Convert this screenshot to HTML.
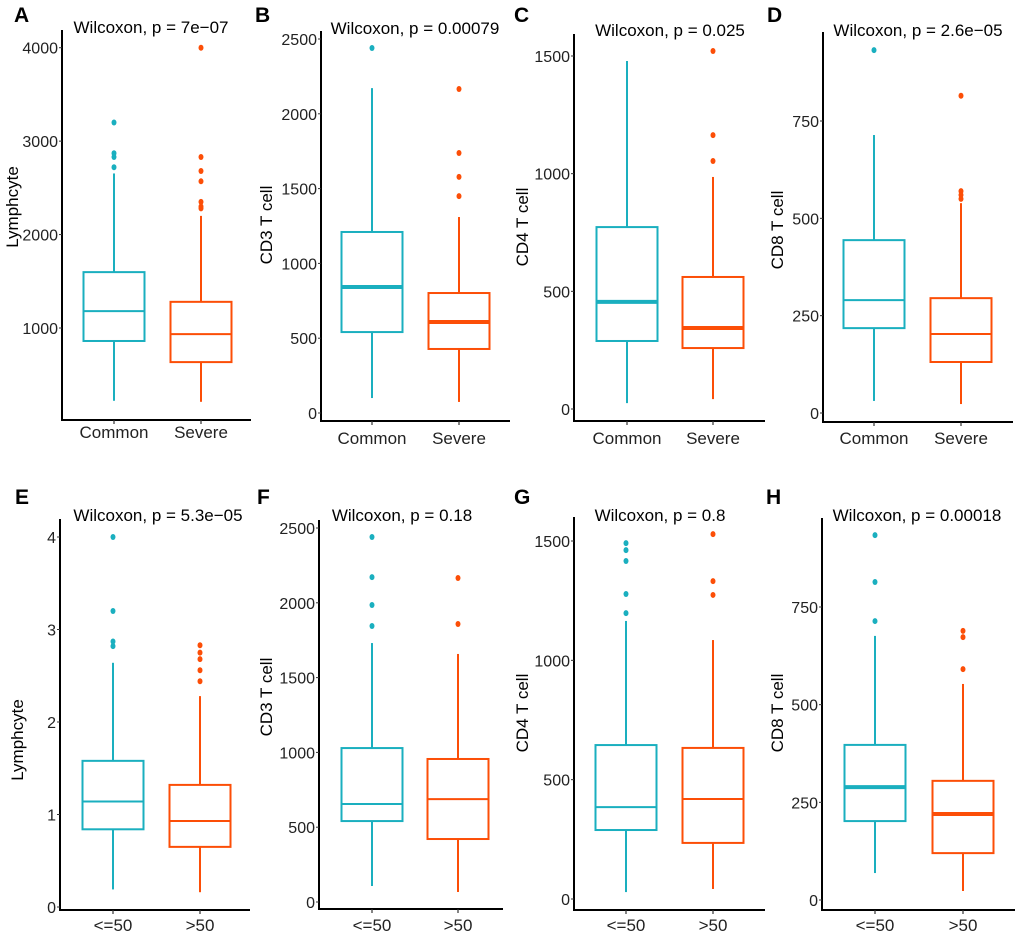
<!DOCTYPE html>
<html><head><meta charset="utf-8">
<style>
html,body{margin:0;padding:0;background:#fff;}
svg{display:block;font-family:"Liberation Sans",Arial,sans-serif;}
</style></head>
<body>
<svg id="chart" width="1020" height="937" viewBox="0 0 1020 937" xmlns="http://www.w3.org/2000/svg"></svg>
<script>
// ---- data ----
const panelLetters = ["A","B","C","D","E","F","G","H"];
const panelTitles = ["Wilcoxon, p = 7e\u221207","Wilcoxon, p = 0.00079","Wilcoxon, p = 0.025","Wilcoxon, p = 2.6e\u221205",
  "Wilcoxon, p = 5.3e\u221205","Wilcoxon, p = 0.18","Wilcoxon, p = 0.8","Wilcoxon, p = 0.00018"];
const yTitles = ["Lymphcyte","CD3 T cell","CD4 T cell","CD8 T cell","Lymphcyte","CD3 T cell","CD4 T cell","CD8 T cell"];
const categoriesTop = ["Common","Severe"];
const categoriesBottom = ["<=50",">50"];
const tickLabels = [
  [1000,2000,3000,4000],[0,500,1000,1500,2000,2500],[0,500,1000,1500],[0,250,500,750],
  [0,1,2,3,4],[0,500,1000,1500,2000,2500],[0,500,1000,1500],[0,250,500,750]];
const q1Values  = [[861,635],[541,428],[289,259],[218,131],[0.84,0.65],[541,421],[289,235],[202,120]];
const medValues = [[1181,935],[842,608],[455,344],[290,203],[1.14,0.93],[655,688],[385,419],[289,220]];
const q3Values  = [[1598,1280],[1210,802],[773,561],[444,295],[1.58,1.32],[1029,956],[645,633],[397,305]];
const loValues  = [[221,210],[100,74],[25,42],[31,23],[0.19,0.16],[107,67],[29,42],[69,23]];
const hiValues  = [[2654,2200],[2172,1310],[1479,986],[714,539],[2.64,2.28],[1731,1658],[1165,1085],[676,553]];
const outlierValues = [
  [[3200,2870,2830,2720],[4000,2830,2680,2570,2350,2300,2280]],
  [[2440],[2166,1738,1578,1450]],
  [[],[1521,1164,1054]],
  [[932],[815,570,560,550]],
  [[4.0,3.2,2.87,2.82],[2.83,2.75,2.68,2.56,2.44]],
  [[2440,2172,1985,1845],[2166,1858]],
  [[1491,1462,1416,1278,1198],[1529,1332,1274]],
  [[934,814,714],[689,673,591]]];
const thickMedian = [false,true,true,false,false,false,false,true];

// ---- layout (pixels) ----
const geom = [
  [62,30,420,251, 1000,328,4000,47.7, 114,201, 14,22, 151,27, 12,207, 438],
  [321,31,421,510, 0,413,2500,39, 372,459, 255,22, 415,28, 266,225, 444],
  [574,34,421,765, 0,409,1500,56, 627,713, 514,22, 670,30, 522,227, 444],
  [823,32,422,1013, 0,413,750,121, 874,961, 767,22, 918,30, 777,230, 444],
  [60,519,910,250, 0,907,4,537, 113,200, 15,504, 158,515, 17,740, 931],
  [319,520,909,503, 0,902,2500,528, 372,458, 257,504, 402,515, 266,697, 931],
  [574,517,910,765, 0,899,1500,541, 626,713, 514,504, 660,515, 522,713, 931],
  [822,518,910,1015, 0,900,750,607, 875,963, 766,504, 917,515, 777,713, 931]];
const colors = ["#1AAFBF","#FC4E07"];
const halfW = 30.5;

const svg = document.getElementById('chart');
const NS = "http://www.w3.org/2000/svg";
function mk(tag, attrs, parent){
  const e = document.createElementNS(NS, tag);
  for (const k in attrs) e.setAttribute(k, attrs[k]);
  (parent||svg).appendChild(e);
  return e;
}

for (let p = 0; p < 8; p++) {
  const g = geom[p];
  const [ax, aTop, aBot, aRight, v0, p0, v1, p1, c1, c2, lx, ly, tx, ty, ytx, yty, xly] = g;
  const yScale = v => p0 + (v - v0) * (p1 - p0) / (v1 - v0);
  const grp = mk('g', {});
  
  

  const letter = mk('text', {x: lx, y: ly, 'font-size': 21, 'font-weight': 'bold', fill: '#000'}, grp);
  letter.textContent = panelLetters[p];
  
  

  const title = mk('text', {x: tx, y: ty + 6, 'font-size': 17, 'text-anchor': 'middle', fill: '#000'}, grp);
  title.textContent = panelTitles[p];
  
  

  const yt = mk('text', {x: ytx, y: yty, 'font-size': 17, 'text-anchor': 'middle', fill: '#000', transform: `rotate(-90 ${ytx} ${yty})`, dy: 6}, grp);
  yt.textContent = yTitles[p];
  
  

  const axes = mk('path', {d: `M${ax} ${aTop} L${ax} ${aBot} L${aRight} ${aBot}`, fill: 'none', stroke: '#000', 'stroke-width': 2}, grp);
  
  

  tickLabels[p].forEach(t => {
    const y = yScale(t);
    const tk = mk('line', {x1: ax - 3, x2: ax, y1: y, y2: y, stroke: '#333', 'stroke-width': 1}, grp);
    
    
    const tl = mk('text', {x: ax - 4, y: y + 6, 'font-size': 16, 'text-anchor': 'end', fill: '#222'}, grp);
    tl.textContent = t;
    
    
  });

  const cats = p < 4 ? categoriesTop : categoriesBottom;
  [c1, c2].forEach((cx, i) => {
    const col = colors[i];
    const xt = mk('line', {x1: cx, x2: cx, y1: aBot, y2: aBot + 4, stroke: '#333', 'stroke-width': 1.2}, grp);
    
    
    const xl = mk('text', {x: cx, y: xly, 'font-size': 17, 'text-anchor': 'middle', fill: '#222'}, grp);
    xl.textContent = cats[i];
    
    

    const bg = mk('g', {}, grp);
    
    
    const yq1 = yScale(q1Values[p][i]), yq3 = yScale(q3Values[p][i]), ym = yScale(medValues[p][i]);
    const ylo = yScale(loValues[p][i]), yhi = yScale(hiValues[p][i]);
    const w1 = mk('line', {x1: cx, x2: cx, y1: yq3, y2: yhi, stroke: col, 'stroke-width': 2}, bg);
    
    
    const w2 = mk('line', {x1: cx, x2: cx, y1: yq1, y2: ylo, stroke: col, 'stroke-width': 2}, bg);
    
    
    const r = mk('rect', {x: cx - halfW, y: yq3, width: halfW * 2, height: yq1 - yq3, fill: '#fff', stroke: col, 'stroke-width': 2}, bg);
    
    
    const m = mk('line', {x1: cx - halfW, x2: cx + halfW, y1: ym, y2: ym, stroke: col, 'stroke-width': thickMedian[p] ? 4 : 2}, bg);
    
    
    outlierValues[p][i].forEach(v => {
      const c = mk('ellipse', {cx: cx, cy: yScale(v), rx: 2.5, ry: 3, fill: col}, bg);
      
      
    });
  });
}
</script>
</body></html>
